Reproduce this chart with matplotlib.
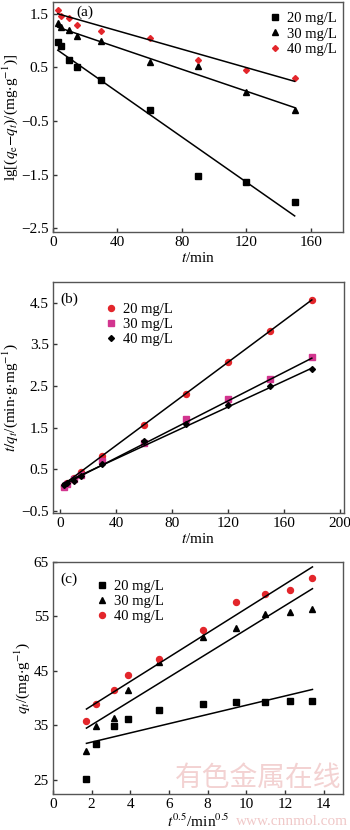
import numpy as np
import matplotlib
matplotlib.use("Agg")
import matplotlib.pyplot as plt

plt.rcParams["font.family"] = ["Liberation Serif", "DejaVu Serif"]
plt.rcParams["mathtext.fontset"] = "stix"
plt.rcParams["axes.edgecolor"] = "#555555"
plt.rcParams["axes.linewidth"] = 1.0

RED = "#e3262b"
MAG = "#d2358f"

# (a) pseudo-first-order
t_a = [3, 5, 10, 15, 30, 60, 90, 120, 150]
a20 = [0.97, 0.90, 0.63, 0.51, 0.26, -0.30, -1.53, -1.63, -2.01]
a30 = [1.33, 1.26, 1.19, 1.09, 0.99, 0.60, 0.52, 0.05, -0.29]
a40 = [1.58, 1.46, 1.42, 1.30, 1.17, 1.04, 0.63, 0.46, 0.30]
fit_a_x = [3, 150]
fit_a20 = [0.82, -2.27]
fit_a30 = [1.25, -0.25]
fit_a40 = [1.50, 0.24]

# (b) pseudo-second-order
t_b = [3, 5, 10, 15, 30, 60, 90, 120, 150, 180]
b20 = [0.11, 0.16, 0.28, 0.44, 0.82, 1.57, 2.31, 3.07, 3.83, 4.57]
b30 = [0.08, 0.14, 0.26, 0.37, 0.70, 1.14, 1.70, 2.18, 2.68, 3.20]
b40 = [0.13, 0.16, 0.22, 0.35, 0.63, 1.18, 1.58, 2.04, 2.50, 2.92]
fit_b_x = [2, 180]
fit_b20 = [0.12, 4.57]
fit_b30 = [0.12, 3.17]
fit_b40 = [0.16, 2.93]

# (c) intraparticle diffusion
t_c = [1.73, 2.24, 3.16, 3.87, 5.48, 7.75, 9.49, 10.95, 12.25, 13.42]
c20 = [25.1, 31.6, 34.9, 36.1, 37.8, 38.9, 39.3, 39.3, 39.4, 39.4]
c30 = [30.3, 34.9, 36.4, 41.5, 46.6, 51.2, 52.9, 55.4, 55.9, 56.4]
c40 = [35.8, 39.0, 41.5, 44.3, 47.1, 52.5, 57.7, 59.2, 59.9, 62.1]
fit_c_x = [1.73, 13.42]
fit_c20 = [31.7, 41.6]
fit_c30 = [34.5, 60.1]
fit_c40 = [38.0, 64.1]

labels = ["20 mg/L", "30 mg/L", "40 mg/L"]

fig = plt.figure(figsize=(3.5, 8.3), dpi=100)
W, H = 350, 830


def make_ax(left, right, top, bottom):
    return fig.add_axes([left / W, 1 - bottom / H, (right - left) / W, (bottom - top) / H])


def style(ax):
    ax.tick_params(direction="in", length=3, width=1, color="#333333",
                   labelsize=11, pad=3, top=False, right=False)


def legend(ax, x, y):
    lg = ax.legend(loc="upper left", bbox_to_anchor=(x, y), frameon=False,
                   fontsize=10.5, handlelength=0.6, handletextpad=0.5,
                   labelspacing=0.13, borderpad=0.2, borderaxespad=0)
    return lg


# ---- (a)
ax = make_ax(53, 343, 2, 232)
ax.plot(t_a, a20, "s", color="black", ms=3.8, label=labels[0], ls="none")
ax.plot(t_a, a30, "^", color="black", ms=3.8, label=labels[1], ls="none")
ax.plot(t_a, a40, "D", color=RED, ms=3.0, label=labels[2], ls="none")
for fy in (fit_a20, fit_a30, fit_a40):
    ax.plot(fit_a_x, fy, "-", color="black", lw=1.1)
ax.set_xlim(0, 180)
ax.set_ylim(-2.57, 1.72)
ax.set_xticks([0, 40, 80, 120, 160])
ax.set_yticks([-2.5, -1.5, -0.5, 0.5, 1.5])
ax.set_xlabel("$t$/min", fontsize=11, labelpad=1)
ax.set_ylabel(r"lg[($q_\mathrm{e}$$-$$q_t$)/(mg$\cdot$g$^{-1}$)]", fontsize=11, labelpad=1)
ax.text(0.08, 0.985, "(a)", transform=ax.transAxes, fontsize=11, va="top")
style(ax)
legend(ax, 0.74, 0.968)

# ---- (b)
ax = make_ax(53, 344, 282, 513)
ax.plot(t_b, b20, "o", color=RED, ms=4.3, label=labels[0], ls="none")
ax.plot(t_b, b30, "s", color=MAG, ms=3.8, label=labels[1], ls="none")
ax.plot(t_b, b40, "D", color="black", ms=3.0, label=labels[2], ls="none")
for fy in (fit_b20, fit_b30, fit_b40):
    ax.plot(fit_b_x, fy, "-", color="black", lw=1.1)
ax.set_xlim(-5, 203)
ax.set_ylim(-0.55, 5.0)
ax.set_xticks([0, 40, 80, 120, 160, 200])
ax.set_yticks([-0.5, 0.5, 1.5, 2.5, 3.5, 4.5])
ax.set_xlabel("$t$/min", fontsize=11, labelpad=1)
ax.set_ylabel(r"$t/q_t$/(min$\cdot$g$\cdot$mg$^{-1}$)", fontsize=11, labelpad=1)
ax.text(0.025, 0.955, "(b)", transform=ax.transAxes, fontsize=11, va="top")
style(ax)
legend(ax, 0.175, 0.923)

# ---- (c)
ax = make_ax(53, 343, 562, 794)
ax.plot(t_c, c20, "s", color="black", ms=3.8, label=labels[0], ls="none")
ax.plot(t_c, c30, "^", color="black", ms=3.8, label=labels[1], ls="none")
ax.plot(t_c, c40, "o", color=RED, ms=4.3, label=labels[2], ls="none")
for fy in (fit_c20, fit_c30, fit_c40):
    ax.plot(fit_c_x, fy, "-", color="black", lw=1.1)
ax.set_xlim(0, 15)
ax.set_ylim(22.4, 65)
ax.set_xticks([0, 2, 4, 6, 8, 10, 12, 14])
ax.set_yticks([25, 35, 45, 55, 65])
ax.set_xlabel(r"$t^{0.5}$/min$^{0.5}$", fontsize=11, labelpad=1)
ax.set_ylabel(r"$q_t$/(mg$\cdot$g$^{-1}$)", fontsize=11, labelpad=1)
ax.text(0.025, 0.955, "(c)", transform=ax.transAxes, fontsize=11, va="top")
style(ax)
legend(ax, 0.145, 0.937)

# watermark, kept inside the plot area and at the bottom-right corner
fig.text(0.50, 0.0445, "有色金属在线", fontsize=20, color="#f3d2d2",
         family=["Noto Sans CJK SC"], ha="left", va="bottom", zorder=0)
fig.text(0.995, 0.002, "www.cnnmol.com", fontsize=11, color="#f0c8c8",
         ha="right", va="bottom", zorder=0)

fig.savefig("out.png", dpi=100)
